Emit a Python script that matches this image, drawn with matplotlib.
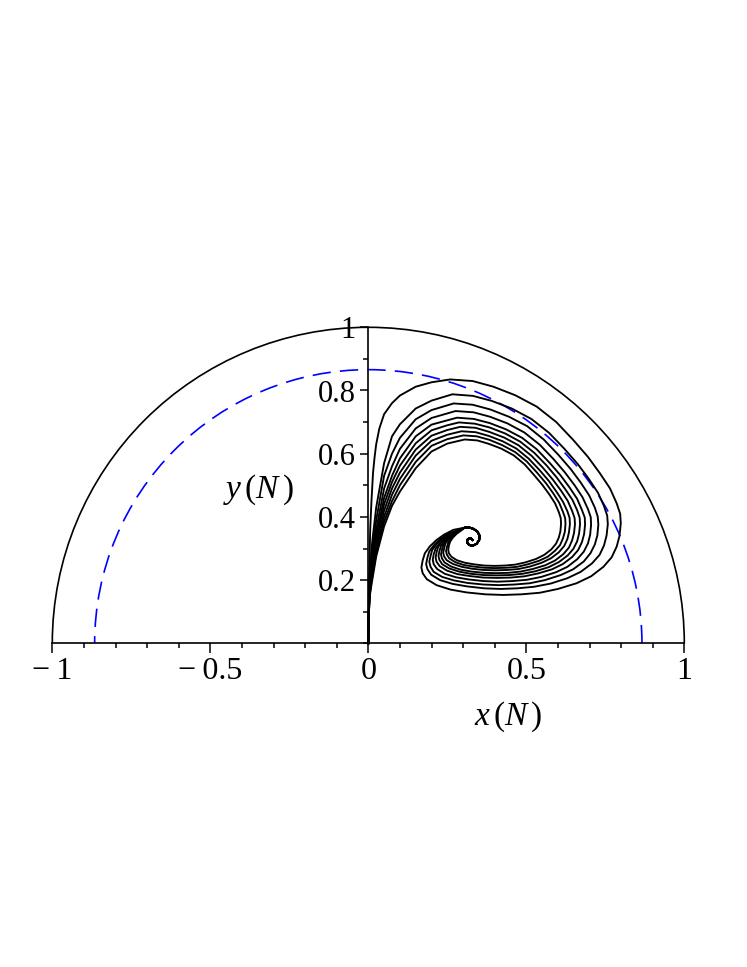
import numpy as np
import matplotlib
matplotlib.use("Agg")
import matplotlib.pyplot as plt
from matplotlib import font_manager
from matplotlib.patches import Arc
from matplotlib.ticker import MultipleLocator, FixedLocator

_names = {f.name for f in font_manager.fontManager.ttflist}
if "Liberation Serif" in _names:
    plt.rcParams["font.family"] = ["Liberation Serif", "DejaVu Serif"]
    plt.rcParams["mathtext.fontset"] = "custom"
    plt.rcParams["mathtext.rm"] = "Liberation Serif"
    plt.rcParams["mathtext.it"] = "Liberation Serif:italic"
else:
    plt.rcParams["font.family"] = ["STIXGeneral", "DejaVu Serif"]
    plt.rcParams["mathtext.fontset"] = "stix"

# ---- values ----
outer_radius = 1.0
dashed_radius = 0.866

x_ticks = [-1, -0.5, 0, 0.5, 1]
x_tick_labels = ["\u2212\u20091", "\u2212\u20090.5", "0", "0.5", "1"]
y_ticks = [0.2, 0.4, 0.6, 0.8, 1.0]
y_tick_labels = ["0.2", "0.4", "0.6", "0.8", "1"]

# trajectories, outermost first (x, y)
orbit_1 = [(0.0, 0.0), (0.001, 0.08), (0.002, 0.18), (0.004, 0.27), (0.006, 0.36),
           (0.01, 0.45), (0.015, 0.54), (0.02, 0.59), (0.025, 0.63), (0.035, 0.68),
           (0.05, 0.725), (0.075, 0.76), (0.1, 0.784), (0.15, 0.812), (0.2, 0.826),
           (0.259, 0.835), (0.33, 0.83), (0.396, 0.812), (0.465, 0.785), (0.533, 0.749),
           (0.595, 0.70), (0.649, 0.643), (0.695, 0.59), (0.733, 0.538), (0.765, 0.49),
           (0.786, 0.443), (0.797, 0.41), (0.799, 0.38), (0.795, 0.34), (0.786, 0.306),
           (0.77, 0.272), (0.744, 0.242), (0.705, 0.212), (0.659, 0.19), (0.6, 0.172),
           (0.543, 0.16), (0.485, 0.155), (0.427, 0.153), (0.37, 0.155), (0.311, 0.161),
           (0.26, 0.17), (0.216, 0.184), (0.185, 0.203), (0.172, 0.222), (0.168, 0.24),
           (0.172, 0.262), (0.179, 0.285), (0.195, 0.307), (0.216, 0.327), (0.24, 0.344),
           (0.269, 0.359)]
orbit_2 = [(0.0, 0.0), (0.001, 0.07), (0.004, 0.20), (0.01, 0.30), (0.025, 0.43),
           (0.05, 0.57), (0.075, 0.655), (0.1, 0.693), (0.15, 0.743), (0.2, 0.768),
           (0.266, 0.788), (0.331, 0.783), (0.391, 0.767), (0.454, 0.743), (0.516, 0.710),
           (0.572, 0.666), (0.621, 0.615), (0.663, 0.567), (0.698, 0.520), (0.727, 0.476),
           (0.746, 0.434), (0.756, 0.404), (0.758, 0.377), (0.754, 0.341), (0.746, 0.310),
           (0.732, 0.280), (0.708, 0.253), (0.672, 0.226), (0.630, 0.206), (0.577, 0.189),
           (0.525, 0.179), (0.472, 0.174), (0.419, 0.172), (0.367, 0.174), (0.313, 0.180),
           (0.267, 0.188), (0.227, 0.200), (0.199, 0.217), (0.187, 0.235), (0.183, 0.251),
           (0.187, 0.271), (0.193, 0.291), (0.208, 0.311), (0.227, 0.329), (0.249, 0.345)]
orbit_3 = [(0.0, 0.0), (0.001, 0.07), (0.004, 0.19), (0.01, 0.27), (0.025, 0.39),
           (0.05, 0.53), (0.075, 0.60), (0.1, 0.650), (0.15, 0.709), (0.2, 0.738),
           (0.270, 0.759), (0.330, 0.755), (0.386, 0.740), (0.445, 0.717), (0.503, 0.687),
           (0.555, 0.645), (0.601, 0.597), (0.640, 0.552), (0.672, 0.509), (0.699, 0.468),
           (0.717, 0.429), (0.726, 0.401), (0.728, 0.376), (0.725, 0.342), (0.717, 0.313),
           (0.703, 0.285), (0.682, 0.259), (0.648, 0.234), (0.609, 0.216), (0.559, 0.200),
           (0.511, 0.190), (0.462, 0.186), (0.413, 0.184), (0.364, 0.186), (0.314, 0.191),
           (0.271, 0.199), (0.234, 0.210), (0.207, 0.226), (0.197, 0.242), (0.193, 0.258),
           (0.197, 0.276), (0.202, 0.295), (0.216, 0.314), (0.234, 0.331), (0.254, 0.345)]
orbit_4 = [(0.0, 0.0), (0.001, 0.07), (0.004, 0.18), (0.01, 0.25), (0.025, 0.36),
           (0.05, 0.49), (0.075, 0.56), (0.1, 0.615), (0.15, 0.680), (0.2, 0.713),
           (0.276, 0.735), (0.333, 0.731), (0.385, 0.717), (0.440, 0.696), (0.494, 0.667),
           (0.543, 0.628), (0.586, 0.583), (0.622, 0.541), (0.653, 0.500), (0.678, 0.462),
           (0.695, 0.425), (0.704, 0.399), (0.705, 0.375), (0.702, 0.343), (0.695, 0.316),
           (0.682, 0.290), (0.661, 0.266), (0.630, 0.242), (0.594, 0.225), (0.547, 0.210),
           (0.502, 0.201), (0.456, 0.197), (0.410, 0.195), (0.364, 0.197), (0.318, 0.202),
           (0.277, 0.209), (0.242, 0.220), (0.218, 0.235), (0.207, 0.250), (0.204, 0.264),
           (0.207, 0.282), (0.213, 0.300), (0.226, 0.317), (0.242, 0.333), (0.261, 0.347)]
orbit_5 = [(0.0, 0.0), (0.001, 0.07), (0.004, 0.17), (0.01, 0.235), (0.025, 0.34),
           (0.05, 0.46), (0.075, 0.53), (0.1, 0.585), (0.15, 0.655), (0.2, 0.692),
           (0.281, 0.714), (0.334, 0.710), (0.384, 0.697), (0.436, 0.677), (0.487, 0.650),
           (0.533, 0.614), (0.574, 0.571), (0.608, 0.532), (0.637, 0.493), (0.661, 0.457),
           (0.676, 0.422), (0.685, 0.398), (0.686, 0.376), (0.683, 0.346), (0.676, 0.320),
           (0.664, 0.295), (0.645, 0.273), (0.616, 0.251), (0.581, 0.234), (0.537, 0.221),
           (0.494, 0.212), (0.451, 0.208), (0.407, 0.207), (0.364, 0.208), (0.320, 0.213),
           (0.282, 0.219), (0.249, 0.230), (0.226, 0.244), (0.216, 0.258), (0.213, 0.271),
           (0.216, 0.288), (0.221, 0.305), (0.233, 0.321), (0.249, 0.336), (0.267, 0.349)]
orbit_6 = [(0.0, 0.0), (0.001, 0.07), (0.004, 0.165), (0.01, 0.225), (0.025, 0.325),
           (0.05, 0.44), (0.075, 0.51), (0.1, 0.562), (0.15, 0.633), (0.2, 0.674),
           (0.25, 0.69), (0.287, 0.699), (0.337, 0.695), (0.384, 0.683), (0.433, 0.664),
           (0.481, 0.638), (0.525, 0.603), (0.564, 0.563), (0.596, 0.525), (0.623, 0.488),
           (0.646, 0.454), (0.661, 0.421), (0.669, 0.397), (0.670, 0.376), (0.667, 0.347),
           (0.661, 0.323), (0.649, 0.299), (0.631, 0.278), (0.603, 0.257), (0.571, 0.241),
           (0.529, 0.228), (0.488, 0.220), (0.447, 0.216), (0.406, 0.215), (0.365, 0.216),
           (0.324, 0.220), (0.287, 0.227), (0.256, 0.237), (0.234, 0.250), (0.225, 0.264),
           (0.222, 0.276), (0.225, 0.292), (0.230, 0.308), (0.241, 0.324), (0.256, 0.338),
           (0.273, 0.350)]
orbit_7 = [(0.0, 0.0), (0.001, 0.07), (0.004, 0.16), (0.01, 0.215), (0.025, 0.31),
           (0.05, 0.42), (0.075, 0.49), (0.1, 0.54), (0.15, 0.613), (0.2, 0.657),
           (0.25, 0.675), (0.291, 0.685), (0.339, 0.682), (0.383, 0.669), (0.430, 0.651),
           (0.475, 0.627), (0.517, 0.593), (0.553, 0.555), (0.584, 0.518), (0.610, 0.483),
           (0.631, 0.451), (0.645, 0.419), (0.653, 0.396), (0.654, 0.376), (0.651, 0.349),
           (0.645, 0.326), (0.635, 0.303), (0.617, 0.282), (0.591, 0.262), (0.560, 0.247),
           (0.520, 0.235), (0.482, 0.227), (0.443, 0.223), (0.404, 0.222), (0.366, 0.223),
           (0.326, 0.227), (0.292, 0.233), (0.262, 0.243), (0.241, 0.256), (0.233, 0.269),
           (0.230, 0.281), (0.233, 0.296), (0.237, 0.311), (0.248, 0.326), (0.262, 0.340),
           (0.278, 0.351)]
orbit_8 = [(0.0, 0.0), (0.001, 0.07), (0.004, 0.155), (0.01, 0.205), (0.025, 0.295),
           (0.05, 0.40), (0.075, 0.47), (0.1, 0.52), (0.15, 0.594), (0.2, 0.641),
           (0.25, 0.66), (0.295, 0.671), (0.340, 0.668), (0.382, 0.656), (0.426, 0.639),
           (0.469, 0.616), (0.508, 0.584), (0.543, 0.547), (0.572, 0.513), (0.596, 0.479),
           (0.616, 0.448), (0.630, 0.418), (0.637, 0.397), (0.638, 0.377), (0.635, 0.351),
           (0.630, 0.330), (0.620, 0.308), (0.603, 0.288), (0.578, 0.269), (0.549, 0.255),
           (0.512, 0.243), (0.475, 0.235), (0.438, 0.232), (0.402, 0.231), (0.365, 0.232),
           (0.328, 0.236), (0.296, 0.242), (0.268, 0.251), (0.248, 0.263), (0.240, 0.275),
           (0.237, 0.287), (0.240, 0.301), (0.244, 0.316), (0.254, 0.330), (0.268, 0.343),
           (0.283, 0.354)]
orbit_9 = [(0.0, 0.0), (0.001, 0.07), (0.004, 0.15), (0.01, 0.195), (0.025, 0.285),
           (0.05, 0.385), (0.075, 0.45), (0.1, 0.50), (0.15, 0.574), (0.2, 0.625),
           (0.25, 0.646), (0.301, 0.658), (0.343, 0.655), (0.383, 0.644), (0.424, 0.627),
           (0.465, 0.605), (0.502, 0.575), (0.534, 0.540), (0.562, 0.507), (0.585, 0.475),
           (0.604, 0.445), (0.616, 0.416), (0.623, 0.396), (0.624, 0.378), (0.622, 0.353),
           (0.616, 0.332), (0.607, 0.311), (0.591, 0.293), (0.568, 0.274), (0.540, 0.261),
           (0.505, 0.250), (0.471, 0.242), (0.436, 0.239), (0.401, 0.238), (0.367, 0.239),
           (0.332, 0.243), (0.301, 0.248), (0.275, 0.257), (0.256, 0.269), (0.249, 0.280),
           (0.246, 0.291), (0.249, 0.305), (0.253, 0.319), (0.262, 0.333), (0.275, 0.345),
           (0.289, 0.356)]
orbit_10 = [(0.0, 0.0), (0.001, 0.07), (0.004, 0.145), (0.01, 0.185), (0.025, 0.275),
            (0.05, 0.37), (0.075, 0.435), (0.1, 0.48), (0.15, 0.554), (0.2, 0.607),
            (0.25, 0.632), (0.305, 0.645), (0.345, 0.642), (0.382, 0.631), (0.421, 0.616),
            (0.460, 0.595), (0.495, 0.566), (0.525, 0.532), (0.551, 0.501), (0.573, 0.471),
            (0.591, 0.443), (0.603, 0.415), (0.609, 0.396), (0.610, 0.378), (0.608, 0.355),
            (0.603, 0.335), (0.594, 0.315), (0.579, 0.297), (0.557, 0.280), (0.531, 0.267),
            (0.497, 0.256), (0.465, 0.249), (0.432, 0.246), (0.400, 0.245), (0.367, 0.246),
            (0.334, 0.250), (0.305, 0.255), (0.280, 0.263), (0.263, 0.274), (0.255, 0.285),
            (0.253, 0.296), (0.255, 0.309), (0.259, 0.322), (0.268, 0.335), (0.280, 0.347),
            (0.294, 0.357)]
orbits = [orbit_1, orbit_2, orbit_3, orbit_4, orbit_5,
          orbit_6, orbit_7, orbit_8, orbit_9, orbit_10]

# inner hook shared by all trajectories near the attractor
curl_tail = [(0.305, 0.366), (0.318, 0.367), (0.333, 0.362), (0.345, 0.354),
             (0.352, 0.341), (0.351, 0.327), (0.343, 0.315), (0.331, 0.309),
             (0.319, 0.311), (0.312, 0.320), (0.315, 0.330), (0.324, 0.333),
             (0.330, 0.327)]

# ---- figure ----
W, H = 747, 967
fig = plt.figure(figsize=(W / 100, H / 100), dpi=100)
ax = fig.add_axes([52.3 / W, 1 - 643.3 / H, 632 / W, 316 / H])
ax.set_xlim(-1, 1)
ax.set_ylim(0, 1)

ax.add_patch(Arc((0, 0), 2 * outer_radius, 2 * outer_radius, theta1=0, theta2=180,
                 color="black", lw=1.2, clip_on=False))
ax.add_patch(Arc((0, 0), 2 * dashed_radius, 2 * dashed_radius, theta1=0, theta2=180,
                 color="blue", lw=1.2, linestyle=(0, (11, 5.5)), clip_on=False))

for orbit in orbits:
    pts = np.array(orbit + curl_tail)
    ax.plot(pts[:, 0], pts[:, 1], color="black", lw=1.35, clip_on=False,
            solid_joinstyle="round")

for side in ("top", "right"):
    ax.spines[side].set_visible(False)
ax.spines["left"].set_position(("data", 0))
ax.spines["bottom"].set_position(("data", 0))
for side in ("left", "bottom"):
    ax.spines[side].set_linewidth(1.2)

ax.xaxis.set_major_locator(FixedLocator(x_ticks))
ax.set_xticklabels(x_tick_labels)
ax.xaxis.set_minor_locator(MultipleLocator(0.1))
ax.yaxis.set_major_locator(FixedLocator(y_ticks))
ax.set_yticklabels(y_tick_labels)
ax.yaxis.set_minor_locator(MultipleLocator(0.1))
ax.tick_params(which="major", direction="out", width=1.1)
ax.tick_params(axis="x", which="major", length=7, labelsize=23, pad=3)
ax.tick_params(axis="y", which="major", length=6, labelsize=22, pad=3)
ax.tick_params(which="minor", direction="out", length=3.8, width=1.1)

ax.text(-0.349, 0.485, r"$y\,(N\,)$", fontsize=24, ha="center", va="center")
ax.text(0.442, -0.232, r"$x\,(N\,)$", fontsize=24, ha="center", va="center")

fig.savefig("out.png", dpi=100)
